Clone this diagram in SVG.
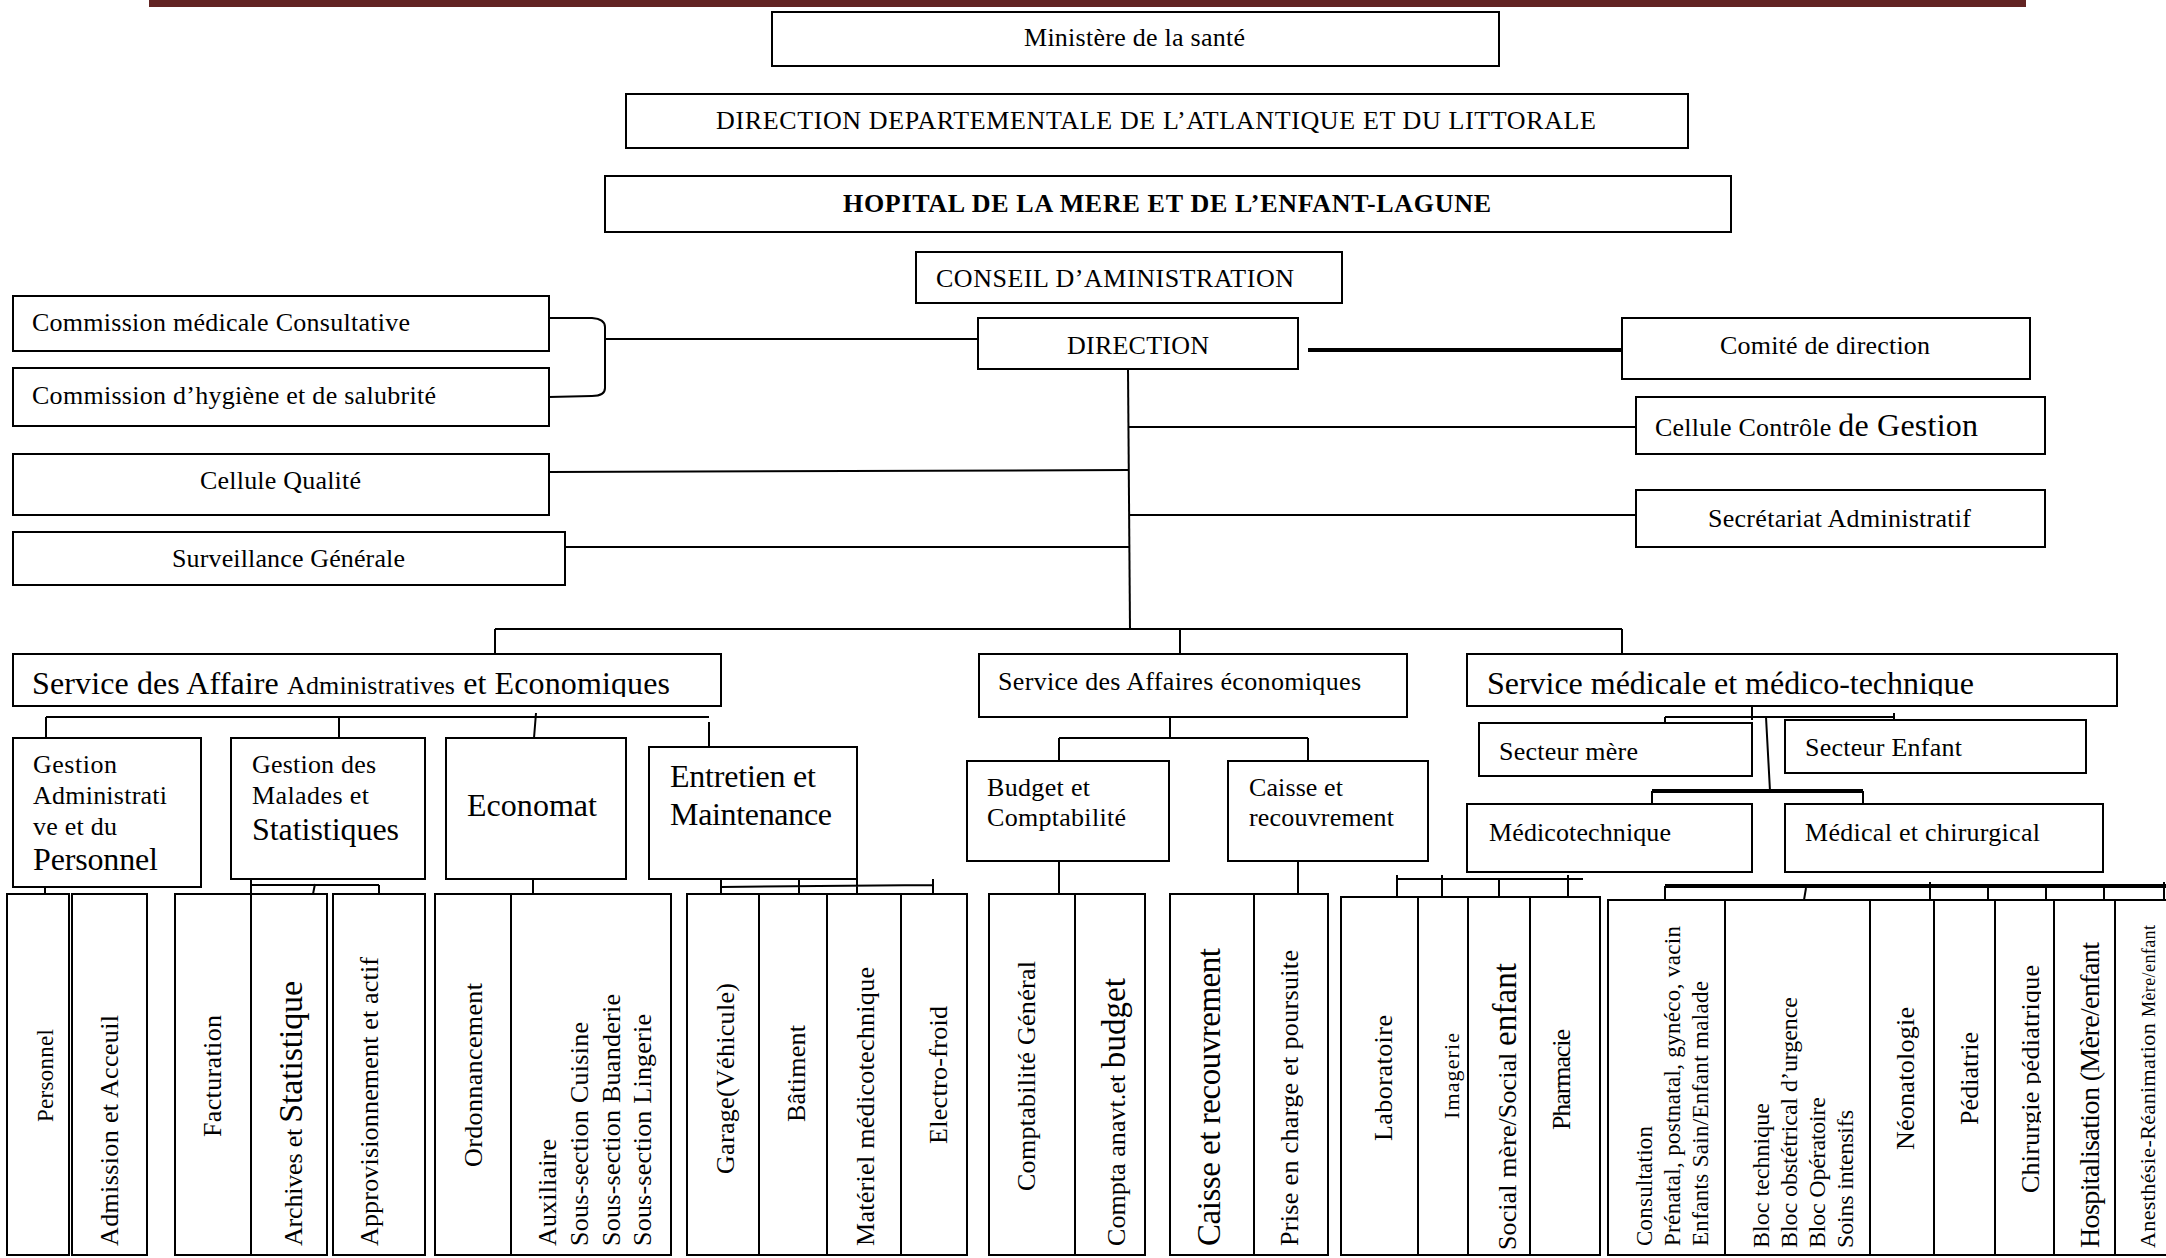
<svg xmlns="http://www.w3.org/2000/svg" width="2166" height="1258" viewBox="0 0 2166 1258">
<style>
.b{fill:#fff;stroke:#000;stroke-width:2}
.t{font-family:"Liberation Serif","Times New Roman",serif;font-size:26px;fill:#000}
.L{font-size:32px}
.c{stroke:#000;stroke-width:2;fill:none}
.k{stroke-width:4}
</style>
<defs>
<clipPath id="clipSAAE"><rect x="0" y="640" width="760" height="57"/></clipPath>
<clipPath id="clipSMMT"><rect x="1460" y="640" width="700" height="56"/></clipPath>
<clipPath id="clipChir"><rect x="1995" y="900" width="46" height="355"/></clipPath>
</defs>
<rect x="149" y="0" width="1877" height="7" fill="#622423"/>
<g id="connectors">
<path class="c" d="M549,318 L592,318 Q605,319 605,327 L605,388 Q605,396 592,396 L549,397"/>
<path class="c" d="M605,339 L978,339"/>
<path class="c k" d="M1308,350 L1622,350"/>
<path class="c" d="M1128,369 L1130,629"/>
<path class="c" d="M1129,427 L1636,427"/>
<path class="c" d="M1129,515 L1636,515"/>
<path class="c" d="M549,472 L1129,470"/>
<path class="c" d="M565,547 L1129,547"/>
<path class="c" d="M495,629 L1622,629 M495,629 L495,654 M1180,629 L1180,654 M1622,629 L1622,654"/>
<path class="c" d="M46,717 L709,717 M46,717 L46,738 M339,717 L339,738 M536,713 L534,738 M709,722 L709,747"/>
<path class="c" d="M1170,717 L1170,738 M1059,738 L1308,738 M1059,738 L1059,761 M1308,738 L1308,761"/>
<path class="c" d="M1752,706 L1752,720 M1665,717 L1894,717 M1665,717 L1665,723 M1894,713 L1894,723 M1766,717 L1770,791"/>
<path class="c k" d="M1652,791 L1863,791"/>
<path class="c" d="M1652,791 L1652,804 M1863,791 L1863,804"/>
<path class="c" d="M45,872 L45,900"/>
<path class="c" d="M251,880 L251,894 M251,885 L379,885 M379,885 L379,894 M315,884 L313,894"/>
<path class="c" d="M533,875 L533,894"/>
<path class="c" d="M721,887 L933,885 M721,880 L721,894 M799,880 L799,894 M857,880 L857,894 M933,879 L933,894"/>
<path class="c" d="M1059,861 L1059,894"/>
<path class="c" d="M1298,861 L1298,894" stroke-width="3"/>
<path class="c" d="M1397,879 L1583,879 M1397,875 L1397,897 M1442,875 L1442,897 M1499,879 L1499,897 M1568,875 L1568,897"/>
<path class="c k" d="M1665,886 L2166,886"/>
<path class="c" d="M1665,886 L1665,900 M1806,888 L1804,900 M1930,882 L1930,900 M1988,886 L1988,900 M2046,886 L2046,900 M2104,886 L2104,900 M2164,882 L2164,900" stroke-width="3"/>
</g>
<g id="ministere"><rect class="b" x="772" y="12" width="727" height="54"/><text class="t" x="1024" y="46" textLength="221">Ministère de la santé</text></g>
<g id="ddal"><rect class="b" x="626" y="94" width="1062" height="54"/><text class="t" x="716" y="129" textLength="880">DIRECTION DEPARTEMENTALE DE L’ATLANTIQUE ET DU LITTORALE</text></g>
<g id="hopital"><rect class="b" x="605" y="176" width="1126" height="56"/><text class="t" x="843" y="212" textLength="648" font-weight="bold">HOPITAL DE LA MERE ET DE L’ENFANT-LAGUNE</text></g>
<g id="conseil"><rect class="b" x="916" y="252" width="426" height="51"/><text class="t" x="936" y="287" textLength="358">CONSEIL D’AMINISTRATION</text></g>
<g id="direction"><rect class="b" x="978" y="318" width="320" height="51"/><text class="t" x="1067" y="354" textLength="142">DIRECTION</text></g>
<g id="comite"><rect class="b" x="1622" y="318" width="408" height="61"/><text class="t" x="1720" y="354" textLength="210">Comité de direction</text></g>
<g id="controle"><rect class="b" x="1636" y="397" width="409" height="57"/><text class="t" x="1655" y="436" textLength="323">Cellule Contrôle <tspan class="L">de Gestion</tspan></text></g>
<g id="secretariat"><rect class="b" x="1636" y="490" width="409" height="57"/><text class="t" x="1708" y="527" textLength="263">Secrétariat Administratif</text></g>
<g id="cmc"><rect class="b" x="13" y="296" width="536" height="55"/><text class="t" x="32" y="331" textLength="378">Commission médicale Consultative</text></g>
<g id="chs"><rect class="b" x="13" y="368" width="536" height="58"/><text class="t" x="32" y="404" textLength="404">Commission d’hygiène et de salubrité</text></g>
<g id="qualite"><rect class="b" x="13" y="454" width="536" height="61"/><text class="t" x="200" y="489" textLength="161">Cellule Qualité</text></g>
<g id="surveillance"><rect class="b" x="13" y="532" width="552" height="53"/><text class="t" x="172" y="567" textLength="233">Surveillance Générale</text></g>
<g id="saae"><rect class="b" x="13" y="654" width="708" height="52"/><text class="t L" x="32" y="694" textLength="638" clip-path="url(#clipSAAE)">Service des Affaire <tspan style="font-size:26px">Administratives</tspan> et Economiques</text></g>
<g id="sae"><rect class="b" x="979" y="654" width="428" height="63"/><text class="t" x="998" y="690" textLength="363">Service des Affaires économiques</text></g>
<g id="smmt"><rect class="b" x="1467" y="654" width="650" height="52"/><text class="t L" x="1487" y="694" textLength="487" clip-path="url(#clipSMMT)">Service médicale et médico-technique</text></g>
<g id="secteur-mere"><rect class="b" x="1479" y="723" width="273" height="53"/><text class="t" x="1499" y="760" textLength="139">Secteur mère</text></g>
<g id="secteur-enfant"><rect class="b" x="1785" y="720" width="301" height="53"/><text class="t" x="1805" y="756" textLength="157">Secteur Enfant</text></g>
<g id="medicotechnique"><rect class="b" x="1467" y="804" width="285" height="68"/><text class="t" x="1489" y="841" textLength="182">Médicotechnique</text></g>
<g id="medical"><rect class="b" x="1785" y="804" width="318" height="68"/><text class="t" x="1805" y="841" textLength="235">Médical et chirurgical</text></g>
<g id="budget"><rect class="b" x="967" y="761" width="202" height="100"/><text class="t" x="987" y="796" textLength="103">Budget et</text><text class="t" x="987" y="826" textLength="139">Comptabilité</text></g>
<g id="caisse"><rect class="b" x="1228" y="761" width="200" height="100"/><text class="t" x="1249" y="796" textLength="94">Caisse et</text><text class="t" x="1249" y="826" textLength="145">recouvrement</text></g>
<g id="gap"><rect class="b" x="13" y="738" width="188" height="149"/><text class="t" x="33" y="773" textLength="84">Gestion</text><text class="t" x="33" y="804" textLength="134">Administrati</text><text class="t" x="33" y="835" textLength="84">ve et du</text><text class="t L" x="33" y="870" textLength="125">Personnel</text></g>
<g id="gms"><rect class="b" x="231" y="738" width="194" height="141"/><text class="t" x="252" y="773" textLength="124">Gestion des</text><text class="t" x="252" y="804" textLength="117">Malades et</text><text class="t L" x="252" y="840" textLength="147">Statistiques</text></g>
<g id="economat"><rect class="b" x="446" y="738" width="180" height="141"/><text class="t L" x="467" y="816" textLength="130">Economat</text></g>
<g id="entretien"><rect class="b" x="649" y="747" width="208" height="132"/><text class="t L" x="670" y="787" textLength="146">Entretien et</text><text class="t L" x="670" y="825" textLength="162">Maintenance</text></g>
<g id="personnel"><rect class="b" x="7" y="894" width="62" height="361"/><text class="t" style="font-size:23px" transform="translate(53,1122) rotate(-90)" textLength="93">Personnel</text></g>
<g id="admission"><rect class="b" x="72" y="894" width="75" height="361"/><text class="t" transform="translate(118,1246) rotate(-90)" textLength="231">Admission et Acceuil</text></g>
<g id="facturation"><rect class="b" x="175" y="894" width="76" height="361"/><text class="t" transform="translate(221,1137) rotate(-90)" textLength="122">Facturation</text></g>
<g id="archives"><rect class="b" x="251" y="894" width="76" height="361"/><text class="t" transform="translate(302,1246) rotate(-90)" textLength="265">Archives et <tspan style="font-size:34px">Statistique</tspan></text></g>
<g id="approvisionnement"><rect class="b" x="333" y="894" width="92" height="361"/><text class="t" transform="translate(378,1246) rotate(-90)" textLength="289">Approvisionnement et actif</text></g>
<g id="ordonnancement"><rect class="b" x="435" y="894" width="76" height="361"/><text class="t" transform="translate(482,1167) rotate(-90)" textLength="184">Ordonnancement</text></g>
<g id="auxiliaire"><rect class="b" x="511" y="894" width="160" height="361"/>
<text class="t" transform="translate(556,1246) rotate(-90)" textLength="107">Auxiliaire</text>
<text class="t" transform="translate(588,1246) rotate(-90)" textLength="224">Sous-section Cuisine</text>
<text class="t" transform="translate(620,1246) rotate(-90)" textLength="252">Sous-section Buanderie</text>
<text class="t" transform="translate(651,1246) rotate(-90)" textLength="232">Sous-section Lingerie</text></g>
<g id="garage"><rect class="b" x="687" y="894" width="72" height="361"/><text class="t" transform="translate(734,1174) rotate(-90)" textLength="191">Garage(Véhicule)</text></g>
<g id="batiment"><rect class="b" x="759" y="894" width="68" height="361"/><text class="t" transform="translate(805,1122) rotate(-90)" textLength="97">Bâtiment</text></g>
<g id="materiel"><rect class="b" x="827" y="894" width="74" height="361"/><text class="t" transform="translate(874,1246) rotate(-90)" textLength="279">Matériel médicotechnique</text></g>
<g id="electro"><rect class="b" x="901" y="894" width="66" height="361"/><text class="t" transform="translate(947,1144) rotate(-90)" textLength="138">Electro-froid</text></g>
<g id="comptabilite"><rect class="b" x="989" y="894" width="86" height="361"/><text class="t" transform="translate(1035,1191) rotate(-90)" textLength="230">Comptabilité Général</text></g>
<g id="compta-anavt"><rect class="b" x="1075" y="894" width="70" height="361"/><text class="t" transform="translate(1125,1246) rotate(-90)" textLength="268">Compta anavt.et <tspan style="font-size:33px">budget</tspan></text></g>
<g id="caisse-rec"><rect class="b" x="1170" y="894" width="84" height="361"/><text class="t" style="font-size:33px" transform="translate(1220,1246) rotate(-90)" textLength="298">Caisse et recouvrement</text></g>
<g id="prise"><rect class="b" x="1254" y="894" width="74" height="361"/><text class="t" transform="translate(1298,1246) rotate(-90)" textLength="296">Prise en charge et poursuite</text></g>
<g id="laboratoire"><rect class="b" x="1341" y="897" width="77" height="358"/><text class="t" transform="translate(1392,1141) rotate(-90)" textLength="126">Laboratoire</text></g>
<g id="imagerie"><rect class="b" x="1418" y="897" width="50" height="358"/><text class="t" style="font-size:22px" transform="translate(1459,1119) rotate(-90)" textLength="86">Imagerie</text></g>
<g id="social"><rect class="b" x="1468" y="897" width="62" height="358"/><text class="t" transform="translate(1516,1250) rotate(-90)" textLength="287">Social mère/Social <tspan style="font-size:33px">enfant</tspan></text></g>
<g id="pharmacie"><rect class="b" x="1530" y="897" width="70" height="358"/><text class="t" transform="translate(1570,1130) rotate(-90)" textLength="101">Pharmacie</text></g>
<g id="consultation"><rect class="b" x="1608" y="900" width="117" height="355"/>
<text class="t" style="font-size:23px" transform="translate(1652,1246) rotate(-90)" textLength="120">Consultation</text>
<text class="t" style="font-size:23px" transform="translate(1680,1246) rotate(-90)" textLength="320">Prénatal, postnatal, gynéco, vacin</text>
<text class="t" style="font-size:23px" transform="translate(1708,1246) rotate(-90)" textLength="265">Enfants Sain/Enfant malade</text></g>
<g id="bloc"><rect class="b" x="1725" y="900" width="145" height="355"/>
<text class="t" style="font-size:24px" transform="translate(1769,1248) rotate(-90)" textLength="145">Bloc technique</text>
<text class="t" style="font-size:24px" transform="translate(1797,1248) rotate(-90)" textLength="251">Bloc obstétrical d’urgence</text>
<text class="t" style="font-size:24px" transform="translate(1825,1248) rotate(-90)" textLength="151">Bloc Opératoire</text>
<text class="t" style="font-size:24px" transform="translate(1853,1248) rotate(-90)" textLength="138">Soins intensifs</text></g>
<g id="neonatologie"><rect class="b" x="1870" y="900" width="64" height="355"/><text class="t" transform="translate(1914,1150) rotate(-90)" textLength="143">Néonatologie</text></g>
<g id="pediatrie"><rect class="b" x="1934" y="900" width="61" height="355"/><text class="t" transform="translate(1978,1125) rotate(-90)" textLength="93">Pédiatrie</text></g>
<g id="chirurgie"><rect class="b" x="1995" y="900" width="59" height="355"/><g clip-path="url(#clipChir)"><text class="t" transform="translate(2039,1193) rotate(-90)" textLength="228">Chirurgie pédiatrique</text></g></g>
<g id="hospitalisation"><rect class="b" x="2054" y="900" width="61" height="355"/><text class="t" style="font-size:28px" transform="translate(2099,1248) rotate(-90)" textLength="306">Hospitalisation (Mère/enfant</text></g>
<g id="anesthesie"><rect class="b" x="2115" y="900" width="60" height="355"/><text class="t" style="font-size:22px" transform="translate(2155,1248) rotate(-90)" textLength="323">Anesthésie-Réanimation  <tspan style="font-size:18px">Mère/enfant</tspan></text></g>
</svg>
